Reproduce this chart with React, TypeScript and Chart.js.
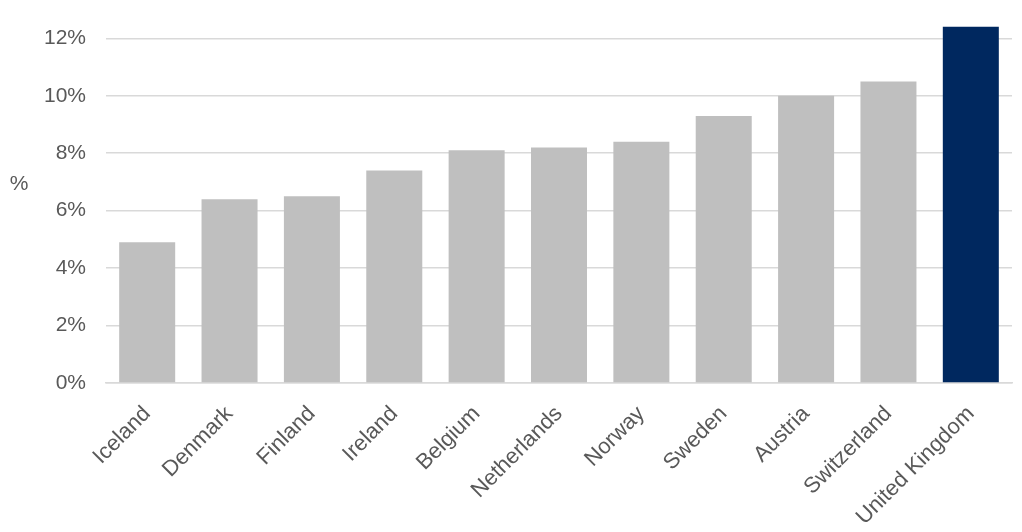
import React, { useEffect, useRef } from "react";
import { Chart, registerables } from "chart.js";

Chart.register(...registerables);

const categories = [
  "Iceland",
  "Denmark",
  "Finland",
  "Ireland",
  "Belgium",
  "Netherlands",
  "Norway",
  "Sweden",
  "Austria",
  "Switzerland",
  "United Kingdom",
];
const values = [4.9, 6.4, 6.5, 7.4, 8.1, 8.2, 8.4, 9.3, 10.0, 10.5, 12.4];
const highlight = "United Kingdom";
const yTicks = [0, 2, 4, 6, 8, 10, 12];
const yTitle = "%";

const FONT = "'Liberation Sans', Arial, sans-serif";
const TEXT = "#595959";

export default function App() {
  const ref = useRef<HTMLCanvasElement | null>(null);

  useEffect(() => {
    if (!ref.current) return;
    const titlePlugin = {
      id: "yTitle",
      afterDraw(chart: any) {
        const { ctx } = chart;
        ctx.save();
        ctx.font = `21px ${FONT}`;
        ctx.fillStyle = TEXT;
        ctx.textAlign = "center";
        ctx.textBaseline = "middle";
        ctx.fillText(yTitle, 19, 184);
        ctx.restore();
      },
    };
    const chart = new Chart(ref.current, {
      type: "bar",
      data: {
        labels: categories,
        datasets: [
          {
            data: values,
            backgroundColor: categories.map((c) =>
              c === highlight ? "#00285f" : "#bfbfbf"
            ),
            barPercentage: 0.68,
            categoryPercentage: 1,
          },
        ],
      },
      options: {
        animation: false,
        responsive: false,
        layout: { padding: { top: 24, right: 10, left: 0, bottom: 0 } },
        plugins: {
          legend: { display: false },
          tooltip: { enabled: false },
        },
        scales: {
          x: {
            grid: { display: false },
            border: { display: true, color: "#d9d9d9", width: 1.5 },
            ticks: {
              color: TEXT,
              font: { family: FONT, size: 22 },
              minRotation: 45,
              maxRotation: 45,
              padding: 10,
            },
            afterFit(scale: any) {
              scale.height = 149;
              scale.paddingLeft = 0;
              scale.paddingRight = 0;
            },
          },
          y: {
            min: 0,
            max: 12.5,
            border: { display: false },
            grid: { color: "#d9d9d9", lineWidth: 1.5, drawTicks: false },
            ticks: {
              stepSize: 2,
              color: TEXT,
              font: { family: FONT, size: 21 },
              padding: 20,
              callback: (v: any) => `${v}%`,
            },
            afterBuildTicks(scale: any) {
              scale.ticks = yTicks.map((v) => ({ value: v }));
            },
            afterFit(scale: any) {
              scale.width = 106;
              scale.paddingTop = 0;
              scale.paddingBottom = 0;
            },
          },
        },
      },
      plugins: [titlePlugin],
    });
    return () => chart.destroy();
  }, []);

  return (
    <div style={{ position: "absolute", left: 0, top: 0, width: 1022, height: 532, background: "#fff" }}>
      <canvas ref={ref} width={1022} height={532} />
    </div>
  );
}
